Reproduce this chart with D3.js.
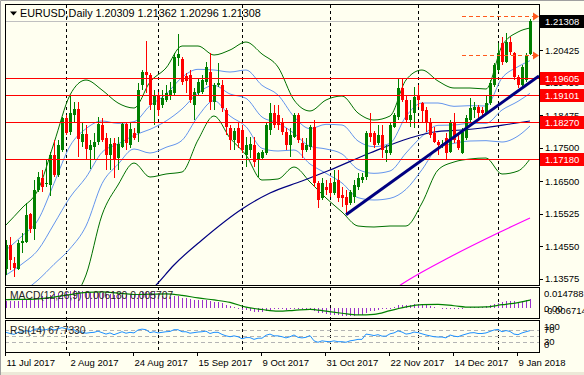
<!DOCTYPE html>
<html>
<head>
<meta charset="utf-8">
<script src="https://cdnjs.cloudflare.com/ajax/libs/d3/7.8.5/d3.min.js"></script>
<style>
  body { margin: 0; background: #fff; }
  svg { display: block; }
  text { font-family: "Liberation Sans", Arial, sans-serif; }
</style>
</head>
<body>
<svg id="chart" width="584" height="375"></svg>
<script>
// ---- data ----
const barOpen = [1.1387,1.1459,1.1405,1.1387,1.1465,1.1468,1.1552,1.1507,1.1624,1.1660,
  1.1642,1.1639,1.1729,1.1669,1.1744,1.1840,1.1798,1.1849,1.1867,1.1768,
  1.1792,1.1744,1.1753,1.1768,1.1819,1.1780,1.1729,1.1765,1.1720,1.1753,
  1.1822,1.1759,1.1795,1.1795,1.1939,1.1978,1.1969,1.1879,1.1909,1.1879,
  1.1894,1.1909,1.1915,1.2020,1.2017,1.1966,1.1969,1.1879,1.1915,1.1918,
  1.1948,1.1978,1.1888,1.1939,1.1939,1.1864,1.1810,1.1774,1.1810,1.1804,
  1.1729,1.1744,1.1759,1.1714,1.1720,1.1735,1.1804,1.1855,1.1849,1.1825,
  1.1798,1.1759,1.1783,1.1849,1.1765,1.1744,1.1753,1.1813,1.1645,1.1600,
  1.1633,1.1645,1.1615,1.1654,1.1609,1.1603,1.1585,1.1603,1.1633,1.1654,
  1.1663,1.1795,1.1795,1.1765,1.1789,1.1735,1.1735,1.1813,1.1843,1.1930,
  1.1894,1.1834,1.1855,1.1909,1.1885,1.1864,1.1825,1.1795,1.1768,1.1759,
  1.1780,1.1738,1.1825,1.1774,1.1735,1.1780,1.1834,1.1864,1.1873,1.1864,
  1.1855,1.1885,1.1939,1.1984,1.2065,1.2008,1.2068,1.2035,1.1963,1.1939,
  1.1954,1.20309];
const barHigh = [1.1474,1.1483,1.1423,1.1474,1.1495,1.1585,1.1555,1.1654,1.1678,1.1684,
  1.1714,1.1738,1.1774,1.1774,1.1843,1.1849,1.1909,1.1888,1.1888,1.1825,
  1.1819,1.1774,1.1795,1.1843,1.1840,1.1795,1.1780,1.1780,1.1783,1.1825,
  1.1825,1.1825,1.1810,1.1945,1.1984,1.2071,1.1975,1.1924,1.1918,1.1924,
  1.1939,1.1948,1.2035,1.2092,1.2023,1.1975,1.1984,1.1930,1.1960,1.1969,
  1.2008,1.2035,1.1945,1.2005,1.1954,1.1870,1.1819,1.1810,1.1828,1.1819,
  1.1783,1.1783,1.1783,1.1738,1.1744,1.1825,1.1885,1.1879,1.1879,1.1840,
  1.1810,1.1810,1.1855,1.1855,1.1780,1.1780,1.1819,1.1834,1.1651,1.1660,
  1.1654,1.1660,1.1684,1.1684,1.1633,1.1624,1.1624,1.1654,1.1675,1.1675,
  1.1801,1.1855,1.1801,1.1819,1.1819,1.1759,1.1825,1.1855,1.1960,1.1957,
  1.1909,1.1894,1.1933,1.1939,1.1888,1.1873,1.1840,1.1813,1.1774,1.1774,
  1.1795,1.1834,1.1855,1.1795,1.1810,1.1849,1.1900,1.1888,1.1879,1.1873,
  1.1909,1.1954,1.2005,1.2065,1.2083,1.2095,1.2083,1.2038,1.1969,1.1999,
  1.2035,1.21362];
const barLow = [1.1369,1.1384,1.1363,1.1384,1.1435,1.1465,1.1495,1.1474,1.1618,1.1618,
  1.1633,1.1606,1.1663,1.1663,1.1738,1.1789,1.1789,1.1825,1.1723,1.1753,
  1.1714,1.1687,1.1714,1.1759,1.1768,1.1684,1.1684,1.1660,1.1684,1.1750,
  1.1744,1.1750,1.1774,1.1768,1.1924,1.1915,1.1864,1.1819,1.1846,1.1870,
  1.1888,1.1894,1.1909,1.1996,1.1939,1.1915,1.1885,1.1834,1.1909,1.1912,
  1.1939,1.1864,1.1864,1.1933,1.1858,1.1789,1.1744,1.1744,1.1750,1.1735,
  1.1693,1.1720,1.1693,1.1663,1.1714,1.1729,1.1789,1.1810,1.1804,1.1789,
  1.1744,1.1723,1.1780,1.1765,1.1720,1.1738,1.1744,1.1633,1.1570,1.1594,
  1.1609,1.1603,1.1609,1.1588,1.1573,1.1549,1.1579,1.1585,1.1624,1.1645,
  1.1654,1.1768,1.1750,1.1759,1.1720,1.1708,1.1729,1.1810,1.1834,1.1888,
  1.1825,1.1813,1.1810,1.1873,1.1825,1.1798,1.1780,1.1765,1.1729,1.1750,
  1.1714,1.1735,1.1765,1.1744,1.1732,1.1774,1.1828,1.1840,1.1834,1.1840,
  1.1849,1.1879,1.1933,1.1978,1.1999,1.2005,1.2029,1.1954,1.1930,1.1933,
  1.1948,1.20296];
const barClose = [1.1459,1.1414,1.1390,1.1465,1.1471,1.1549,1.1507,1.1624,1.1663,1.1633,
  1.1645,1.1729,1.1669,1.1759,1.1840,1.1795,1.1855,1.1867,1.1777,1.1792,
  1.1747,1.1759,1.1768,1.1822,1.1774,1.1729,1.1762,1.1717,1.1762,1.1822,
  1.1765,1.1807,1.1780,1.1924,1.1978,1.1969,1.1879,1.1909,1.1864,1.1900,
  1.1915,1.1924,1.2023,1.2032,1.1948,1.1951,1.1894,1.1918,1.1948,1.1954,
  1.1993,1.1888,1.1939,1.1945,1.1870,1.1813,1.1774,1.1801,1.1765,1.1744,
  1.1759,1.1762,1.1708,1.1735,1.1738,1.1819,1.1855,1.1819,1.1819,1.1798,
  1.1759,1.1789,1.1849,1.1774,1.1744,1.1759,1.1813,1.1645,1.1594,1.1645,
  1.1624,1.1615,1.1648,1.1600,1.1600,1.1579,1.1618,1.1639,1.1660,1.1663,
  1.1795,1.1783,1.1759,1.1789,1.1744,1.1744,1.1819,1.1849,1.1930,1.1894,
  1.1834,1.1849,1.1903,1.1894,1.1861,1.1825,1.1789,1.1768,1.1759,1.1762,
  1.1735,1.1825,1.1774,1.1750,1.1798,1.1840,1.1870,1.1873,1.1855,1.1855,
  1.1885,1.1945,1.1999,1.2035,1.2008,1.2068,1.2038,1.1963,1.1939,1.1993,
  1.2029,1.21308];

const dateLabels = ['11 Jul 2017','2 Aug 2017','24 Aug 2017','15 Sep 2017','9 Oct 2017',
  '31 Oct 2017','22 Nov 2017','14 Dec 2017','9 Jan 2018'];
const dateLabelBars = [0,16,32,48,64,80,96,112,128];
const monthStartBars = [15,38,59,81,103,123];

const priceTicks = [1.20425,1.19450,1.18475,1.17500,1.16500,1.15525,1.14550,1.13575];
const levelLines = [1.19605,1.19101,1.18270,1.17180];
const lastPrice = 1.21308;
const titleText = 'EURUSD,Daily  1.20309 1.21362 1.20296 1.21308';

// Bollinger bands (20,2) green and (20,1) blue, sampled every few bars
const bandBars = [0,4,8,12,16,20,24,28,32,36,40,44,48,52,56,60,64,68,72,76,80,84,88,92,96,100,104,108,112,116,120,124,128,131];
const bbUpper2 = [1.1519,1.1570,1.1624,1.1765,1.1909,1.1954,1.1924,1.1885,1.1870,1.1948,1.1990,1.2056,1.2056,1.2029,1.2044,1.2068,1.2032,1.1993,1.1894,1.1861,1.1894,1.1906,1.1855,1.1834,1.1846,1.1954,1.1984,1.1951,1.1930,1.1930,1.1927,1.2056,1.2098,1.2110];
const bbLower2 = [1.1219,1.1234,1.1264,1.1279,1.1294,1.1369,1.1549,1.1639,1.1705,1.1663,1.1672,1.1678,1.1774,1.1846,1.1780,1.1729,1.1654,1.1657,1.1693,1.1648,1.1600,1.1558,1.1516,1.1513,1.1516,1.1516,1.1585,1.1684,1.1708,1.1717,1.1720,1.1672,1.1681,1.1717];
const bbMid = [1.1369,1.1402,1.1444,1.1522,1.1602,1.1662,1.1737,1.1762,1.1788,1.1806,1.1831,1.1867,1.1915,1.1938,1.1912,1.1899,1.1843,1.1825,1.1794,1.1755,1.1747,1.1732,1.1686,1.1674,1.1681,1.1735,1.1785,1.1818,1.1819,1.1824,1.1824,1.1864,1.1890,1.1914];
const bbUpper1 = [1.1444,1.1486,1.1534,1.1644,1.1756,1.1808,1.1831,1.1824,1.1829,1.1877,1.1911,1.1962,1.1986,1.1984,1.1978,1.1984,1.1938,1.1909,1.1844,1.1808,1.1821,1.1819,1.1771,1.1754,1.1764,1.1845,1.1885,1.1885,1.1875,1.1877,1.1876,1.1960,1.1994,1.2012];
const bbLower1 = [1.1294,1.1318,1.1354,1.1401,1.1448,1.1516,1.1643,1.1701,1.1747,1.1735,1.1752,1.1773,1.1845,1.1892,1.1846,1.1814,1.1749,1.1741,1.1744,1.1702,1.1674,1.1645,1.1601,1.1594,1.1599,1.1626,1.1685,1.1751,1.1764,1.1771,1.1772,1.1768,1.1786,1.1816];

// moving averages (navy and magenta)
const maNavyBars = [34,38,42,49,59,66,74,81,91,101,107,114,119,126,131];
const maNavy = [1.1294,1.1345,1.1399,1.1474,1.1567,1.1615,1.1651,1.1684,1.1735,1.1780,1.1798,1.1804,1.1810,1.1822,1.1831];
const maPinkBars = [95,99,111,123,131];
const maPink = [1.1309,1.1342,1.1423,1.1495,1.1540];

// drawn objects: trend line (ray) and two target arrows
const trendBars = [85,128];
const trendPrices = [1.1550,1.1921];
const arrowStartBar = 114;
const arrowLevels = [1.2146,1.2029];

// MACD(12,26,9): main line as histogram, signal as line
const macdMain = [0.0050,0.0051,0.0050,0.0053,0.0056,0.0062,0.0064,0.0072,0.0080,0.0084,
  0.0088,0.0095,0.0097,0.0103,0.0112,0.0114,0.0121,0.0125,0.0121,0.0119,
  0.0114,0.0111,0.0108,0.0109,0.0106,0.0100,0.0098,0.0093,0.0092,0.0094,
  0.0091,0.0092,0.0090,0.0099,0.0110,0.0116,0.0112,0.0110,0.0104,0.0085,
  0.0080,0.0078,0.0082,0.0083,0.0075,0.0070,0.0062,0.0060,0.0059,0.0057,
  0.0058,0.0048,0.0045,0.0043,0.0035,0.0025,0.0015,0.0008,0.0000,-0.0010,
  -0.0015,-0.0018,-0.0025,-0.0027,-0.0028,-0.0020,-0.0012,-0.0008,-0.0006,-0.0006,
  -0.0009,-0.0008,-0.0003,-0.0004,-0.0007,-0.0008,-0.0004,-0.0016,-0.0030,-0.0034,
  -0.0039,-0.0043,-0.0043,-0.0047,-0.0050,-0.0054,-0.0053,-0.0050,-0.0046,-0.0043,
  -0.0030,-0.0021,-0.0016,-0.0009,-0.0007,-0.0005,0.0002,0.0010,0.0021,0.0025,
  0.0025,0.0026,0.0030,0.0031,0.0029,0.0025,0.0018,0.0011,0.0005,0.0002,
  -0.0002,0.0002,0.0001,-0.0002,0.0000,0.0004,0.0008,0.0011,0.0012,0.0012,
  0.0015,0.0021,0.0030,0.0040,0.0044,0.0051,0.0054,0.0050,0.0046,0.0049,
  0.0055,0.006180];
const macdSignalBars = [0,4,8,12,16,20,24,28,32,36,40,44,48,52,56,60,64,68,72,76,80,84,88,92,96,100,104,108,112,116,120,124,128,131];
const macdSignal = [0.0060,0.0062,0.0066,0.0078,0.0095,0.0110,0.0114,0.0105,0.0096,0.0098,0.0100,0.0090,0.0072,0.0058,0.0041,0.0008,-0.0008,-0.0020,-0.0014,-0.0007,-0.0020,-0.0034,-0.0046,-0.0042,-0.0016,0.0010,0.0026,0.0028,0.0018,0.0008,0.0010,0.0025,0.0040,0.005707];
const macdRange = [-0.006714, 0.014788];

// RSI(14)
const rsiValues = [62,58,55,62,63,68,64,72,74,70,71,75,70,74,78,74,
  72,71,62,63,59,61,62,66,61,56,60,54,59,64,59,62,60,
  70,73,71,61,64,60,62,64,65,71,71,64,
  64,59,61,63,64,66,58,62,62,55,50,47,50,47,
  40,44,44,38,42,42,52,56,50,50,47,43,47,53,45,43,45,51,
  33,28,33,31,30,33,30,30,28,33,35,38,38,
  56,54,51,54,49,49,57,60,67,63,
  56,58,63,61,57,53,50,47,46,46,43,
  53,49,47,52,56,60,61,58,58,60,
  65,70,72,64,68,65,56,54,60,64,67.733];
const rsiLevels = [70,50,30];
const rsiScaleLabels = [100,70,30,0];

// ---- layout ----
const plotL = 5, plotR = 539;
const mainTop = 4, mainBot = 285;
const macdTop = 287, macdBot = 318;
const rsiTop = 320, rsiBot = 352;

const colors = {
  bg: '#FFFFF0', up: '#008000', down: '#FF0000', band2: '#007000', band1: '#6495ED',
  navy: '#000080', pink: '#FF00FF', level: '#FF0000', arrow: '#FF5A1E',
  hist: '#9932CC', signal: '#008000', rsi: '#1E90FF'
};

const svg = d3.select('#chart');
svg.append('rect').attr('width', 584).attr('height', 375).attr('fill', colors.bg);
svg.append('rect').attr('x', 0).attr('y', 372).attr('width', 584).attr('height', 3).attr('fill', '#ECE9D8');
svg.append('path').attr('d', 'M0.5,375V0.5H584').attr('fill', 'none').attr('stroke', '#A0A0A0');

const x = d3.scaleLinear().domain([0, barClose.length - 1]).range([6, 530]);
const y = d3.scaleLinear().domain([1.1339, 1.2179]).range([mainBot, 5]);
const yMacd = d3.scaleLinear().domain(macdRange).range([macdBot, macdTop]);
const yRsi = d3.scaleLinear().domain([0, 100]).range([350.5, 321.2]);

const defs = svg.append('defs');
[['clipMain', mainTop, mainBot], ['clipMacd', macdTop, macdBot], ['clipRsi', rsiTop, rsiBot]]
  .forEach(([id, t, b]) => {
    defs.append('clipPath').attr('id', id).append('rect')
      .attr('x', plotL + 1).attr('y', t + 1).attr('width', plotR - plotL - 1).attr('height', b - t - 1);
  });

// month separators run through every panel
svg.append('g').selectAll('line')
  .data(monthStartBars).enter().append('line')
  .attr('x1', d => Math.round(x(d)) + 0.5).attr('x2', d => Math.round(x(d)) + 0.5)
  .attr('y1', mainTop + 1).attr('y2', rsiBot)
  .attr('stroke', '#000').attr('stroke-dasharray', '3,3').attr('shape-rendering', 'crispEdges');

// ---- main panel ----
const main = svg.append('g').attr('clip-path', 'url(#clipMain)');

// last price line
main.append('line')
  .attr('x1', plotL).attr('x2', plotR)
  .attr('y1', Math.round(y(lastPrice)) + 0.5).attr('y2', Math.round(y(lastPrice)) + 0.5)
  .attr('stroke', '#C0C0C0').attr('shape-rendering', 'crispEdges');

const sampled = (bars, vals) => bars.map((b, i) => [x(b), y(vals[i])]);
const bandLine = d3.line().curve(d3.curveMonotoneX);

[[bbUpper2, colors.band2], [bbLower2, colors.band2], [bbUpper1, colors.band1],
 [bbMid, colors.band1], [bbLower1, colors.band1]].forEach(([vals, c]) => {
  main.append('path').attr('d', bandLine(sampled(bandBars, vals)))
    .attr('fill', 'none').attr('stroke', c).attr('stroke-width', 1);
});

main.append('path').attr('d', bandLine(sampled(maNavyBars, maNavy)))
  .attr('fill', 'none').attr('stroke', colors.navy).attr('stroke-width', 1.2);
main.append('path').attr('d', bandLine(sampled(maPinkBars, maPink)))
  .attr('fill', 'none').attr('stroke', colors.pink).attr('stroke-width', 1.2);

// candles
const candles = main.append('g').selectAll('g')
  .data(barClose.map((c, i) => ({ i, o: barOpen[i], h: barHigh[i], l: barLow[i], c })))
  .enter().append('g')
  .attr('shape-rendering', 'crispEdges');

candles.append('line')
  .attr('x1', d => x(d.i) + 0.5).attr('x2', d => x(d.i) + 0.5)
  .attr('y1', d => y(d.h)).attr('y2', d => y(d.l))
  .attr('stroke', d => d.c >= d.o ? colors.up : colors.down);

candles.append('rect')
  .attr('x', d => x(d.i) - 1).attr('width', 3)
  .attr('y', d => Math.min(y(d.o), y(d.c)))
  .attr('height', d => Math.max(1, Math.abs(y(d.o) - y(d.c))))
  .attr('fill', d => d.c >= d.o ? colors.up : colors.down);

// horizontal levels
main.append('g').selectAll('line')
  .data(levelLines).enter().append('line')
  .attr('x1', plotL).attr('x2', plotR)
  .attr('y1', d => Math.round(y(d)) + 0.5).attr('y2', d => Math.round(y(d)) + 0.5)
  .attr('stroke', colors.level).attr('shape-rendering', 'crispEdges');

// trend line extended to the right edge
const slope = (trendPrices[1] - trendPrices[0]) / (trendBars[1] - trendBars[0]);
const trendEnd = x.invert(plotR);
main.append('line')
  .attr('x1', x(trendBars[0])).attr('y1', y(trendPrices[0]))
  .attr('x2', plotR).attr('y2', y(trendPrices[0] + slope * (trendEnd - trendBars[0])))
  .attr('stroke', colors.navy).attr('stroke-width', 3);

// dashed target arrows
arrowLevels.forEach(p => {
  const yy = Math.round(y(p)) + 0.5;
  main.append('line')
    .attr('x1', x(arrowStartBar)).attr('x2', plotR - 6)
    .attr('y1', yy).attr('y2', yy)
    .attr('stroke', colors.arrow).attr('stroke-dasharray', '4,3')
    .attr('shape-rendering', 'crispEdges');
  main.append('path')
    .attr('d', `M${plotR - 6},${yy - 4}L${plotR},${yy}L${plotR - 6},${yy + 4}Z`)
    .attr('fill', colors.arrow);
});

// ---- MACD panel ----
const macd = svg.append('g').attr('clip-path', 'url(#clipMacd)');
macd.append('g').selectAll('rect')
  .data(macdMain).enter().append('rect')
  .attr('x', (d, i) => x(i) - 0.5).attr('width', 1.5)
  .attr('y', d => Math.min(yMacd(d), yMacd(0)))
  .attr('height', d => Math.max(0.5, Math.abs(yMacd(d) - yMacd(0))))
  .attr('fill', colors.hist).attr('shape-rendering', 'crispEdges');
macd.append('path')
  .attr('d', d3.line().curve(d3.curveMonotoneX)(macdSignalBars.map((b, i) => [x(b), yMacd(macdSignal[i])])))
  .attr('fill', 'none').attr('stroke', colors.signal).attr('stroke-width', 1.2);

// ---- RSI panel ----
const rsi = svg.append('g').attr('clip-path', 'url(#clipRsi)');
rsi.append('g').selectAll('line')
  .data(rsiLevels).enter().append('line')
  .attr('x1', plotL).attr('x2', plotR)
  .attr('y1', d => Math.round(yRsi(d)) + 0.5).attr('y2', d => Math.round(yRsi(d)) + 0.5)
  .attr('stroke', '#B4B4B4').attr('stroke-dasharray', '4,3').attr('shape-rendering', 'crispEdges');
rsi.append('path')
  .attr('d', d3.line()(rsiValues.map((v, i) => [x(i), yRsi(v)])))
  .attr('fill', 'none').attr('stroke', colors.rsi).attr('stroke-width', 1);

// ---- frames ----
[[mainTop, mainBot], [macdTop, macdBot], [rsiTop, rsiBot]].forEach(([t, b]) => {
  svg.append('rect')
    .attr('x', plotL + 0.5).attr('y', t + 0.5)
    .attr('width', plotR - plotL).attr('height', b - t)
    .attr('fill', 'none').attr('stroke', '#000').attr('shape-rendering', 'crispEdges');
});

// ---- labels ----
const font = 9.5;
const txt = (g, xx, yy, s, fill, size) => g.append('text')
  .attr('x', xx).attr('y', yy).attr('dy', '0.35em')
  .attr('font-size', size || font).attr('fill', fill || '#000').text(s);

svg.append('path').attr('d', 'M10,11.5h7l-3.5,4z').attr('fill', '#000');
txt(svg, 20, 13.5, titleText, '#000', 10.8);
txt(svg, 10, 295, `MACD(12,26,9) ${macdMain[macdMain.length - 1].toFixed(6)} ${macdSignal[macdSignal.length - 1].toFixed(6)}`, '#222', 10.3);
txt(svg, 10, 330, `RSI(14) ${rsiValues[rsiValues.length - 1].toFixed(4)}`, '#222', 10.3);

// price axis
const axisG = svg.append('g');
priceTicks.forEach(p => {
  axisG.append('line').attr('x1', plotR).attr('x2', plotR + 4)
    .attr('y1', Math.round(y(p)) + 0.5).attr('y2', Math.round(y(p)) + 0.5)
    .attr('stroke', '#000').attr('shape-rendering', 'crispEdges');
  txt(axisG, plotR + 6, y(p), p.toFixed(5));
});
const priceBox = (p, fill) => {
  const yy = Math.round(y(p));
  axisG.append('rect').attr('x', plotR + 1).attr('y', yy - 6).attr('width', 584 - plotR - 1).attr('height', 13)
    .attr('fill', fill).attr('shape-rendering', 'crispEdges');
  txt(axisG, plotR + 6, yy + 0.5, p.toFixed(5), '#fff');
};
levelLines.forEach(p => priceBox(p, colors.level));
priceBox(lastPrice, '#000');

// indicator scales, max/min labels kept inside their panel
const clampLabel = (v, t, b) => Math.max(t + 7, Math.min(b - 7, v));
[macdRange[1], 0, macdRange[0]].forEach(v => {
  const s = v === 0 ? '0.00' : v.toFixed(6);
  txt(axisG, plotR + 5, clampLabel(yMacd(v), macdTop, macdBot), s);
});
rsiScaleLabels.forEach(v => txt(axisG, plotR + 5, clampLabel(yRsi(v), rsiTop, rsiBot), String(v)));

// date axis
dateLabelBars.forEach((b, i) => {
  const xx = Math.round(x(b)) - 0.5;
  axisG.append('line').attr('x1', xx).attr('x2', xx).attr('y1', rsiBot).attr('y2', rsiBot + 4)
    .attr('stroke', '#000').attr('shape-rendering', 'crispEdges');
  txt(axisG, xx + 1, 362.5, dateLabels[i]);
});
</script>
</body>
</html>
